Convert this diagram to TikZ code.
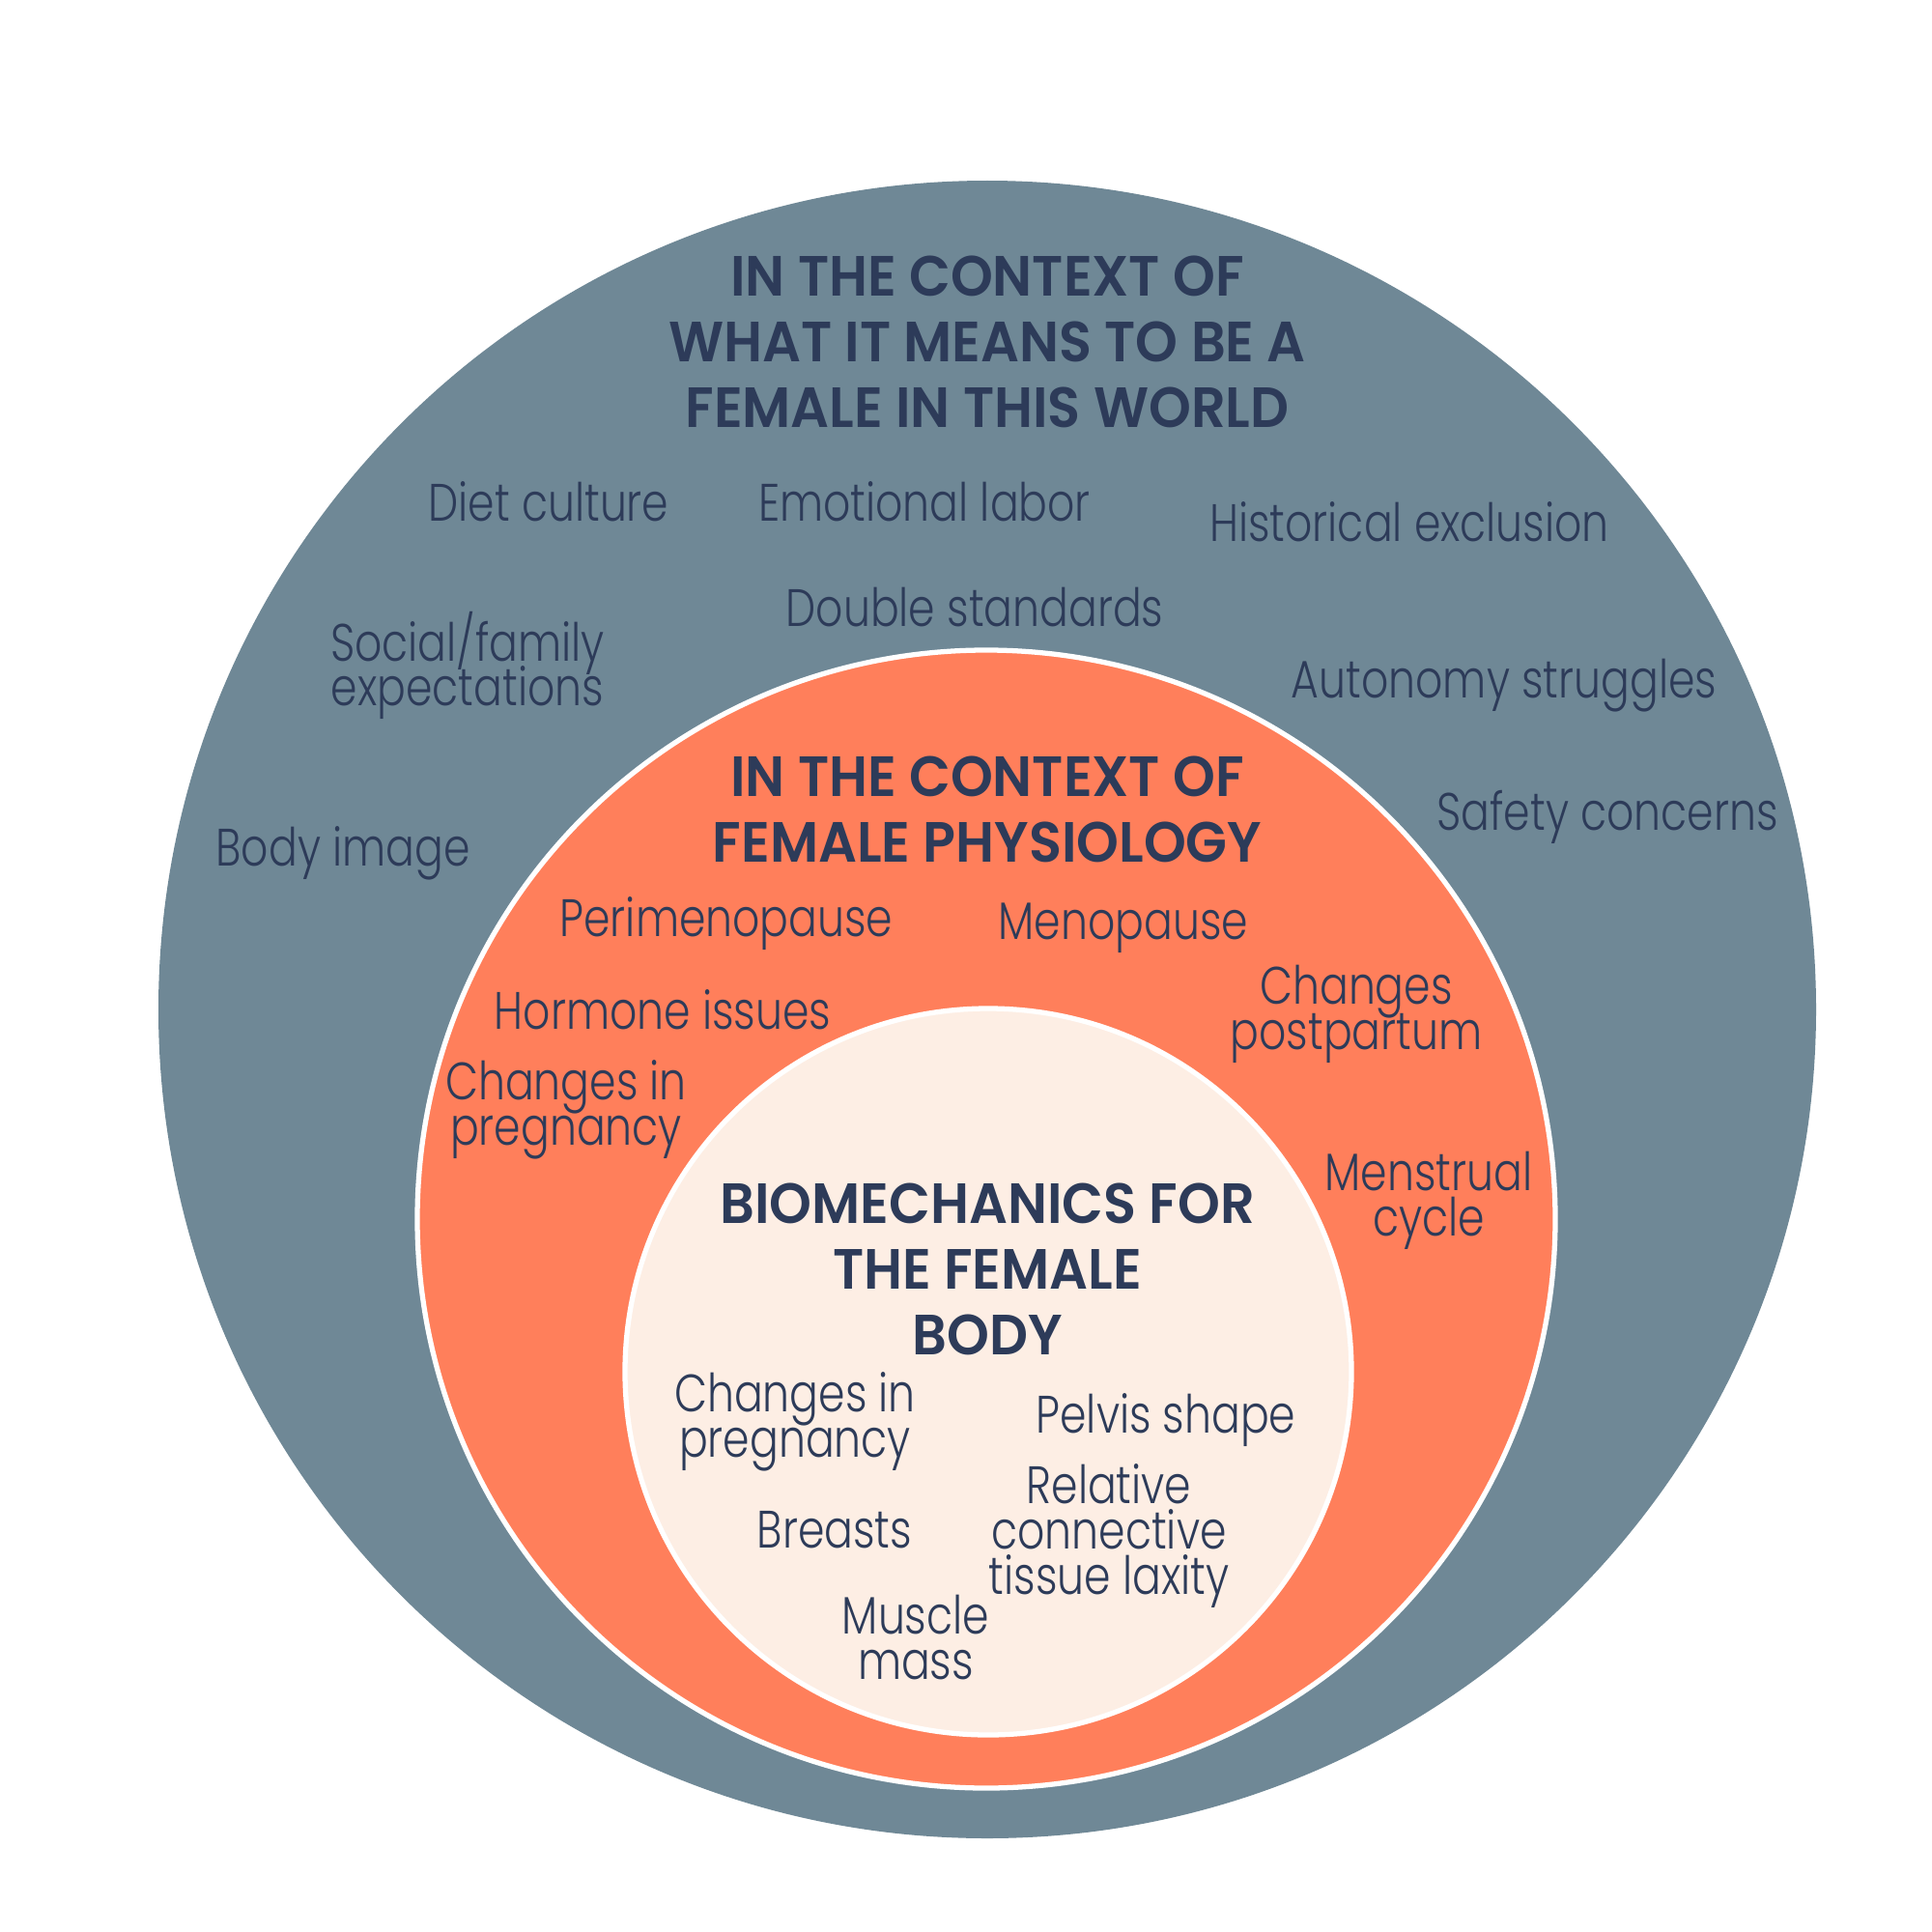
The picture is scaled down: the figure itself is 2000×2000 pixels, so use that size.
\documentclass[tikz,border=0pt]{standalone}
\usepackage{fontspec}
\IfFontExistsTF{Poppins Light}
  {\newfontfamily\bodyf{Poppins Light}[FakeStretch=0.81]}
  {\newfontfamily\bodyf{Poppins}[FakeStretch=0.81]}
\IfFontExistsTF{Poppins SemiBold}
  {\newfontfamily\headf{Poppins SemiBold}[FakeStretch=0.95]}
  {\newfontfamily\headf{Poppins}[FakeStretch=0.95,UprightFont=* Bold]}
\newcommand\tightlines{\lineskiplimit=-30pt\relax\lineskip=0pt\relax}
\definecolor{slate}{HTML}{6F8896}
\definecolor{coral}{HTML}{FF7F5B}
\definecolor{cream}{HTML}{FDEEE4}
\definecolor{navy}{HTML}{2D3B59}
\begin{document}
\begin{tikzpicture}[x=0.01cm,y=-0.01cm,
  lbl/.style={text=navy,align=center,inner sep=0pt,font=\bodyf\fontsize{15.5}{13.3}\selectfont\tightlines},
  ttl/.style={text=navy,align=center,inner sep=0pt,font=\headf\fontsize{16.7}{19.4}\selectfont\tightlines},
  ring/.style={draw=white,line width=1.5pt}]
\useasboundingbox (0,0) rectangle (2000,2000);
\fill[white] (0,0) rectangle (2000,2000);
\fill[slate] (1022,1045) circle[radius=858];
\filldraw[ring,fill=coral] (1021,1262) circle[radius=589];
\filldraw[ring,fill=cream] (1023,1420) circle[radius=376];
% outer ring
\node[ttl] (t1) at (1022,354) {IN THE CONTEXT OF\\WHAT IT MEANS TO BE A\\FEMALE IN THIS WORLD};
\node[lbl] (diet) at (568,519) {Diet culture};
\node[lbl] (emo) at (957,519) {Emotional labor};
\node[lbl] (hist) at (1459,540) {Historical exclusion};
\node[lbl] (dbl) at (1009,629) {Double standards};
\node[lbl] (soc) at (484,689) {Social/family\\expectations};
\node[lbl] (auto) at (1557,710) {Autonomy struggles};
\node[lbl] (safe) at (1664,846) {Safety concerns};
\node[lbl] (body) at (355,883) {Body image};
% middle ring
\node[ttl] (t2) at (1022,838) {IN THE CONTEXT OF\\FEMALE PHYSIOLOGY};
\node[lbl] (peri) at (752,956) {Perimenopause};
\node[lbl] (meno) at (1163,961) {Menopause};
\node[lbl] (horm) at (686,1045) {Hormone issues};
\node[lbl] (post) at (1404,1050) {Changes\\postpartum};
\node[lbl] (preg1) at (586,1149) {Changes in\\pregnancy};
\node[lbl] (mens) at (1479,1243) {Menstrual\\cycle};
% inner circle
\node[ttl] (t3) at (1022,1314) {BIOMECHANICS FOR\\THE FEMALE\\BODY};
\node[lbl] (preg2) at (823,1472) {Changes in\\pregnancy};
\node[lbl] (pelv) at (1207,1470) {Pelvis shape};
\node[lbl] (lax) at (1148,1590) {Relative\\connective\\tissue laxity};
\node[lbl] (brst) at (864,1584) {Breasts};
\node[lbl] (musc) at (948,1695) {Muscle\\mass};
\end{tikzpicture}
\end{document}
